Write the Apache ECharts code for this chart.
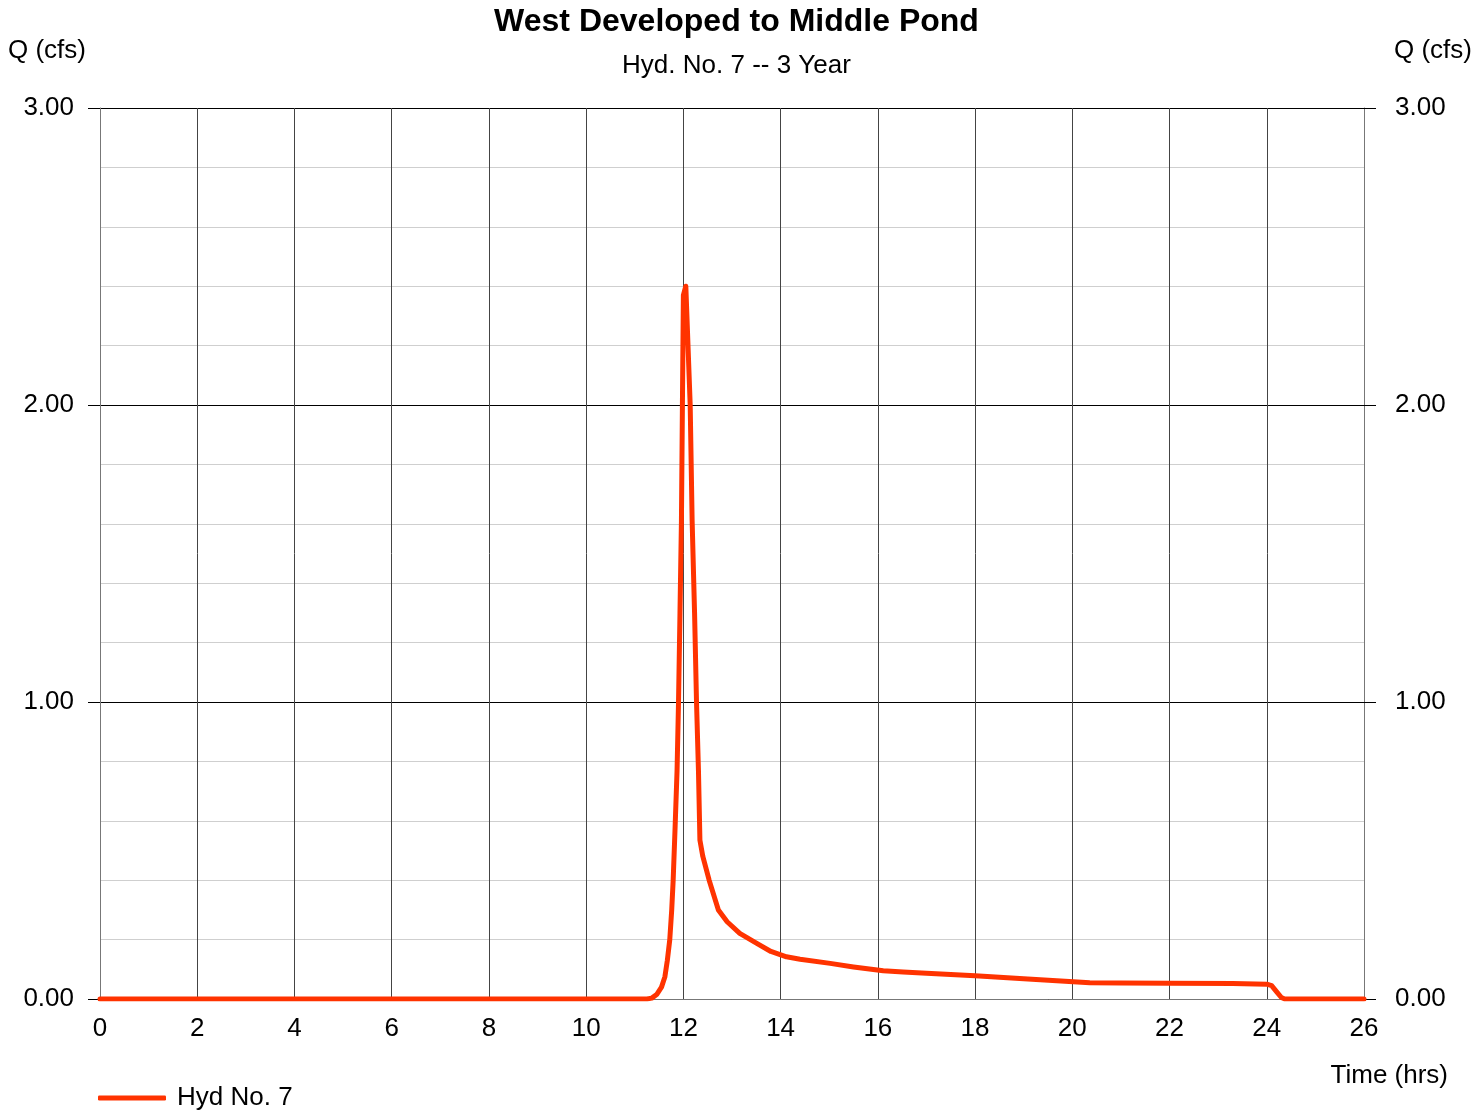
<!DOCTYPE html>
<html>
<head>
<meta charset="utf-8">
<script src="https://cdn.jsdelivr.net/npm/echarts@6/dist/echarts.min.js"></script>
<style>
    html, body { margin: 0; padding: 0; background: #fff; }
    #chart { width: 1473px; height: 1114px; }
</style>
</head>
<body>
<div id="chart"></div>
<script type="text/javascript">
    // hydrograph: time (hrs) and flow (cfs)
    var hours = [0, 11.25, 11.35, 11.45, 11.55, 11.62, 11.67, 11.72, 11.76, 11.79, 11.83, 11.87, 11.90, 11.93, 11.96, 11.98,
        12.00, 12.05, 12.09, 12.14, 12.18, 12.23, 12.27, 12.31, 12.34, 12.40, 12.53, 12.72, 12.90, 13.16, 13.51, 13.80,
        14.12, 14.40, 15.02, 15.50, 16.11, 16.52, 17.00, 18.00, 19.00, 20.02, 20.36, 21.00, 22.00, 23.30, 24.00, 24.10,
        24.20, 24.30, 24.37, 26];
    var flow = [0, 0, 0.003, 0.015, 0.04, 0.075, 0.13, 0.20, 0.30, 0.40, 0.58, 0.77, 1.00, 1.30, 1.61, 2.00,
        2.37, 2.40, 2.40, 2.00, 1.61, 1.30, 1.00, 0.77, 0.535, 0.48, 0.40, 0.30, 0.26, 0.221, 0.187, 0.16,
        0.142, 0.134, 0.120, 0.108, 0.095, 0.091, 0.087, 0.078, 0.068, 0.058, 0.055, 0.054, 0.053, 0.052, 0.050, 0.045,
        0.025, 0.005, 0, 0];
    var seriesName = 'Hyd No. 7';

    var pts = [];
    for (var i = 0; i < hours.length; i++) {
        pts.push([hours[i], flow[i]]);
    }

    var font = 'Liberation Sans, Arial, sans-serif';
    var lineColor = '#ff3300';

    function qAxis(pos) {
        return {
            type: 'value',
            position: pos,
            min: 0,
            max: 3,
            interval: 1,
            axisLine: { show: true, lineStyle: { color: '#777', width: 1 } },
            axisTick: { show: true, length: 12, lineStyle: { color: '#000', width: 1 } },
            axisLabel: {
                margin: pos == 'left' ? 26 : 31,
                fontFamily: font, fontSize: 26, color: '#000',
                formatter: function (v) { return v.toFixed(2); }
            },
            splitLine: { show: pos == 'left', lineStyle: { color: '#000', width: 1 } },
            minorTick: { show: false, splitNumber: 5 },
            minorSplitLine: { show: pos == 'left', lineStyle: { color: '#cfcfcf', width: 1 } }
        };
    }

    var myChart = echarts.init(document.getElementById('chart'));
    var option = {
        animation: false,
        backgroundColor: '#fff',
        title: [
            { text: 'West Developed to Middle Pond', left: 'center', top: 1,
              textStyle: { fontFamily: font, fontSize: 32, fontWeight: 'bold', color: '#000' } },
            { text: 'Hyd. No. 7 -- 3 Year', left: 'center', top: 48,
              textStyle: { fontFamily: font, fontSize: 26, fontWeight: 'normal', color: '#000' } },
            { text: 'Q (cfs)', left: 3, top: 33,
              textStyle: { fontFamily: font, fontSize: 26, fontWeight: 'normal', color: '#000' } },
            { text: 'Q (cfs)', right: -4, top: 33,
              textStyle: { fontFamily: font, fontSize: 26, fontWeight: 'normal', color: '#000' } },
            { text: 'Time (hrs)', right: 20, top: 1058,
              textStyle: { fontFamily: font, fontSize: 26, fontWeight: 'normal', color: '#000' } }
        ],
        legend: {
            left: 93,
            top: 1080,
            icon: 'roundRect',
            itemWidth: 68,
            itemHeight: 5,
            textStyle: { fontFamily: font, fontSize: 26, color: '#000', padding: [0, 0, 0, 6] },
            data: [seriesName]
        },
        grid: { left: 100, right: 109, top: 108, bottom: 115, containLabel: false },
        xAxis: {
            type: 'value',
            min: 0,
            max: 26,
            interval: 2,
            axisLine: { show: true, onZero: false, lineStyle: { color: '#777', width: 1 } },
            axisTick: { show: false },
            axisLabel: { margin: 17, fontFamily: font, fontSize: 26, color: '#000' },
            splitLine: { show: true, lineStyle: { color: '#444', width: 1 } }
        },
        yAxis: [qAxis('left'), qAxis('right')],
        series: [{
            name: seriesName,
            type: 'line',
            yAxisIndex: 0,
            data: pts,
            showSymbol: false,
            smooth: false,
            lineStyle: { color: lineColor, width: 5, cap: 'round', join: 'round' },
            itemStyle: { color: lineColor }
        }]
    };
    myChart.setOption(option, true);
</script>
</body>
</html>
